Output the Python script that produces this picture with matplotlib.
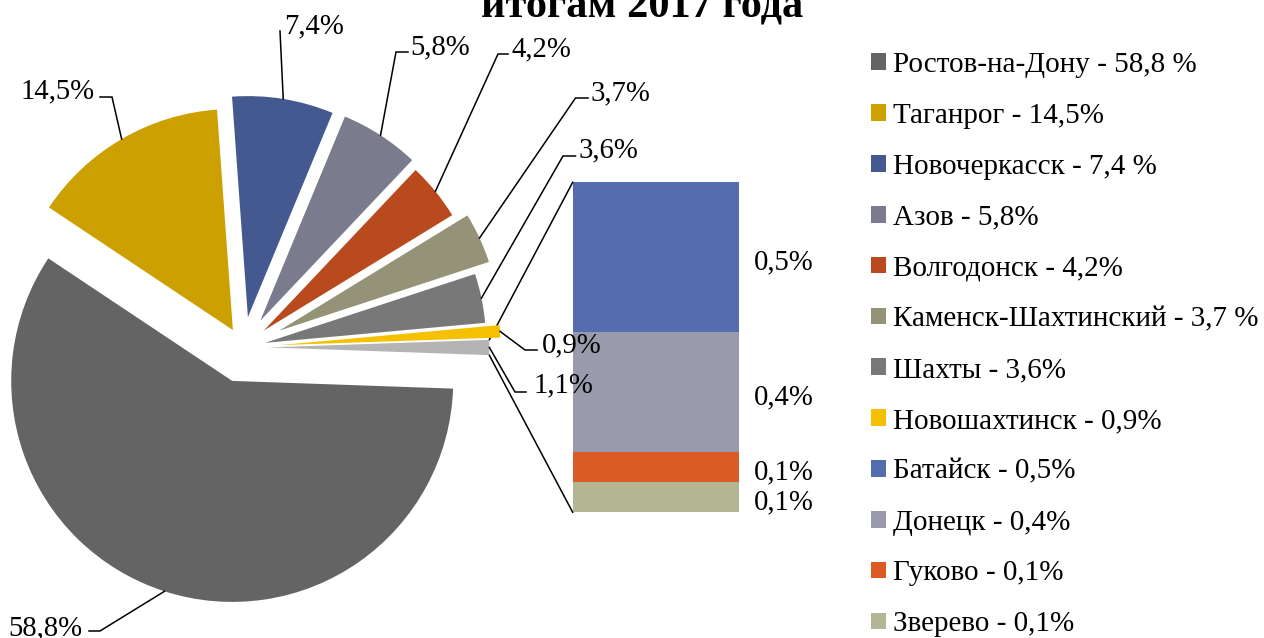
import matplotlib
matplotlib.use('Agg')
import matplotlib.pyplot as plt
from matplotlib.patches import Patch
import numpy as np

plt.rcParams['font.family'] = ['Liberation Serif', 'DejaVu Serif']

# ---------------- data ----------------
title_text = 'итогам 2017 года'
pie_names = ['Ростов-на-Дону', 'Таганрог', 'Новочеркасск', 'Азов', 'Волгодонск',
             'Каменск-Шахтинский', 'Шахты', 'Новошахтинск', 'Прочие']
pie_values = [58.8, 14.5, 7.4, 5.8, 4.2, 3.7, 3.6, 0.9, 1.1]
pie_value_labels = ['58,8%', '14,5%', '7,4%', '5,8%', '4,2%', '3,7%', '3,6%', '0,9%', '1,1%']
bar_names = ['Батайск', 'Донецк', 'Гуково', 'Зверево']
bar_values = [0.5, 0.4, 0.1, 0.1]
bar_value_labels = ['0,5%', '0,4%', '0,1%', '0,1%']
legend_labels = ['Ростов-на-Дону - 58,8 %', 'Таганрог - 14,5%', 'Новочеркасск - 7,4 %',
                 'Азов - 5,8%', 'Волгодонск - 4,2%', 'Каменск-Шахтинский - 3,7 %',
                 'Шахты - 3,6%', 'Новошахтинск - 0,9%', 'Батайск - 0,5%',
                 'Донецк - 0,4%', 'Гуково - 0,1%', 'Зверево - 0,1%']

# ---------------- style ----------------
pie_colors = ['#646464', '#CCA000', '#43598F', '#7A7B8C', '#B84A1E',
              '#949378', '#787878', '#F5C000', '#B4B4B4']
bar_colors = ['#536DAF', '#999AAB', '#DC5A23', '#B4B593']
explode = [35.2, 20.1, 30.7, 31.8, 26.7, 39.6, 22.5, 36.5, 25.4]  # pixels

W, H = 1264, 638
FS = 20.7
FS_LEG = 21

def Y(y):
    return H - y

fig = plt.figure(figsize=(W / 100, H / 100), dpi=100)

# bar of pie axes (drawn below the pie/label layer)
bax = fig.add_axes([572.7 / W, Y(512.3) / H, 166.3 / W, 330 / H])
bax.set_zorder(0)

ax = fig.add_axes([0, 0, 1, 1])
ax.set_zorder(1)
wedges, _ = ax.pie(pie_values, explode=explode, startangle=-2, counterclock=False,
                   colors=pie_colors, center=(243, Y(347.4)), radius=221,
                   wedgeprops=dict(linewidth=0, zorder=2))
ax.set_xlim(0, W)
ax.set_ylim(0, H)
ax.set_aspect('auto')
ax.axis('off')

# label layout (image pixel coords): text left x, baseline y, elbow, end of horizontal
label_pos = [(8, 635), (20.5, 98), (284, 33.5), (410, 54.3), (512, 56.3),
             (590, 100), (579, 157), (542, 352), (533, 392.7)]
leader = [((100, 631), (89, 631)), ((112, 97), (100, 97)), ((280, 31), (280, 31)),
          ((396, 52), (408, 52)), ((498, 54), (508, 54)), ((575.5, 98), (588, 98)),
          ((563, 156), (575.5, 156)), ((525, 350), (537, 350)), ((515, 392), (526, 392))]

for w, txt, (tx, ty), (el, en) in zip(wedges, pie_value_labels, label_pos, leader):
    th = np.deg2rad((w.theta1 + w.theta2) / 2)
    axp = w.center[0] + w.r * np.cos(th)
    ayp = w.center[1] + w.r * np.sin(th)
    ax.plot([axp, el[0], en[0]], [ayp, Y(el[1]), Y(en[1])], color='black', lw=1.1,
            zorder=3, solid_joinstyle='miter')
    ax.text(tx, Y(ty), txt, ha='left', va='baseline', fontsize=FS, color='black',
            zorder=4)

# ---------------- bar ----------------
bottoms = np.cumsum([0] + bar_values[::-1])[:-1][::-1]
total = float(np.sum(bar_values))
bax.bar(0, bar_values, bottom=bottoms, width=1, color=bar_colors, linewidth=0)
bax.set_xlim(-0.5, 0.5)
bax.set_ylim(0, total)
bax.axis('off')
for v, b, txt in zip(bar_values, bottoms, bar_value_labels):
    bax.annotate(txt, xy=(0.5, b + v / 2), xytext=(11, -9), textcoords='offset points',
                 ha='left', va='baseline', fontsize=FS, color='black',
                 annotation_clip=False)

# series lines from "other" slice to bar
ow = wedges[-1]
to_ax = ax.transData.inverted()
top_b = to_ax.transform(bax.transData.transform((-0.5, total)))
bot_b = to_ax.transform(bax.transData.transform((-0.5, 0)))
for ang, pt in ((ow.theta2, top_b), (ow.theta1, bot_b)):
    t = np.deg2rad(ang)
    px = ow.center[0] + ow.r * np.cos(t)
    py = ow.center[1] + ow.r * np.sin(t)
    ax.plot([px, pt[0]], [py, pt[1]], color='black', lw=1.1, zorder=1)

# ---------------- legend ----------------
legend_colors = pie_colors[:8] + bar_colors
handles = [Patch(facecolor=c, edgecolor='none') for c in legend_colors]
fig.legend(handles=handles, labels=legend_labels, loc='upper left',
           bbox_to_anchor=(871 / W, Y(52) / H), frameon=False, fontsize=FS_LEG,
           handlelength=0.5, handleheight=0.5, handletextpad=0.24,
           labelspacing=0.852, borderpad=0, borderaxespad=0)

# ---------------- title (partly cut off at top) ----------------
fig.text(642.4 / W, Y(16) / H, title_text, ha='center', va='baseline',
         fontsize=30.5, fontweight='bold', color='black')

fig.savefig('out.png', dpi=100)
